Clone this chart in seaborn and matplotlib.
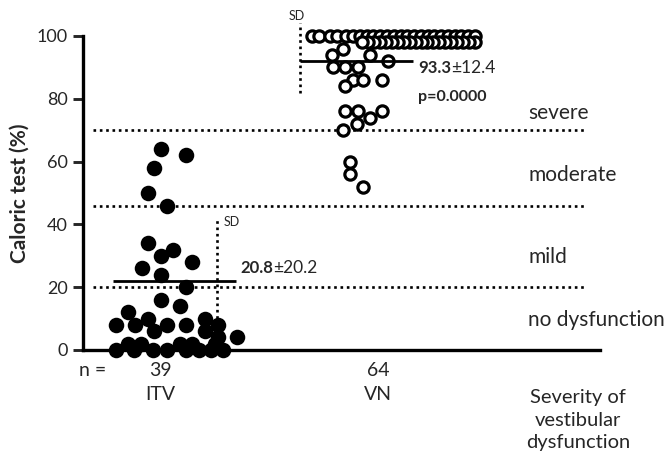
import numpy as np
import pandas as pd
import matplotlib
matplotlib.use("Agg")
import matplotlib.pyplot as plt
import seaborn as sns

# ---------------- data ----------------
groups = ["ITV", "VN"]

itv_values = [64, 62, 58, 50, 46,
              34, 32, 30, 28, 26, 24, 20,
              16, 14, 12,
              8, 8, 10, 6, 8, 8, 10, 6, 8, 4, 4,
              0, 0, 0, 0, 0, 0, 0, 0,
              2, 2, 2, 2, 2]
itv_offsets = [0.003, 0.118, -0.028, -0.056, 0.031,
               -0.056, 0.058, 0.003, 0.147, -0.084, 0.006, 0.118,
               0.003, 0.092, -0.145,
               -0.203, -0.115, -0.056, -0.028, 0.031, 0.118, 0.206, 0.206, 0.265, 0.265, 0.355,
               -0.203, -0.119, -0.032, 0.032, 0.119, 0.179, 0.234, 0.289,
               -0.147, -0.087, 0.092, 0.147, 0.252]

vn_values = [100] * 24 + [98] * 20 + [96, 94, 94, 92, 90, 90, 90, 86, 86, 86, 84,
                                      76, 76, 76, 74, 72, 70, 60, 56, 52]
vn_offsets = [-0.303, -0.271, -0.220, -0.188, -0.147, -0.115, -0.083, -0.050,
              -0.023, 0.009, 0.041, 0.073, 0.106, 0.133, 0.165, 0.197,
              0.229, 0.257, 0.289, 0.321, 0.353, 0.381, 0.413, 0.445,
              0.445, 0.417, 0.390, 0.362, 0.335, 0.307, 0.280, 0.252, 0.225, 0.202,
              0.174, 0.147, 0.119, 0.092, 0.064, 0.037, 0.009, -0.018, -0.046, -0.073,
              -0.161, -0.211, -0.037, 0.046, -0.206, -0.151, -0.092, -0.115, -0.069, 0.018,
              -0.151, -0.151, -0.092, 0.018, -0.037, -0.096, -0.161, -0.128, -0.128, -0.069]

mean_text = ["20.8", "93.3"]
sd_text = ["20.2", "12.4"]
mean_line_y = [22, 92]          # height of drawn mean bars
sd_low = [0, 82]
sd_high = [42.5, 104]
p_text = "p=0.0000"
cutoffs = [20, 46, 70]
severity_labels = ["no dysfunction", "mild", "moderate", "severe"]
yticks = [0, 20, 40, 60, 80, 100]
ylabel = "Caloric test (%)"
axis_title = "Severity of\nvestibular\ndysfunction"

# ---------------- style ----------------
sns.set_style("white")
plt.rcParams["font.family"] = ["Lato", "DejaVu Sans"]

fig = plt.figure(figsize=(6.68, 4.57), dpi=100)
ax = fig.add_axes([83 / 668, 1 - 350 / 457, (600 - 83) / 668, (350 - 36) / 457])

df_itv = pd.DataFrame({"x": 0 + np.array(itv_offsets), "y": itv_values})
df_vn = pd.DataFrame({"x": 1 + np.array(vn_offsets), "y": vn_values})

sns.scatterplot(data=df_itv, x="x", y="y", color="black", s=125, edgecolor="black",
                linewidth=0, clip_on=False, ax=ax, zorder=4, legend=False)
sns.scatterplot(data=df_vn, x="x", y="y", color="white", s=66, edgecolor="black",
                linewidth=2.3, clip_on=False, ax=ax, zorder=4, legend=False)

ax.set_xlim(-0.353, 2.018)
ax.set_ylim(0, 100)

dotted = [(0, (1, 1.4))]
# cutoff dotted lines
ax.hlines(cutoffs, -0.307, 1.950, colors="black", linewidth=1.9,
          linestyles=dotted, zorder=2)

# mean bars
ax.hlines(mean_line_y[0], -0.216, 0.349, colors="black", linewidth=2.0, zorder=5)
ax.hlines(mean_line_y[1], 1 - 0.358, 1 + 0.161, colors="black", linewidth=2.0, zorder=5)
# SD dotted verticals
ax.vlines(0.261, sd_low[0], sd_high[0], colors="black", linewidth=1.9,
          linestyles=dotted, zorder=5, clip_on=False)
ax.vlines(1 - 0.358, sd_low[1], sd_high[1], colors="black", linewidth=1.9,
          linestyles=dotted, zorder=5, clip_on=False)

# spines / ticks
for s in ["top", "right"]:
    ax.spines[s].set_visible(False)
for s in ["left", "bottom"]:
    ax.spines[s].set_linewidth(2.4)
    ax.spines[s].set_color("black")
ax.set_yticks(yticks)
ax.set_yticklabels([str(t) for t in yticks], fontsize=13)
ax.set_xticks([])
ax.tick_params(axis="y", direction="out", length=7, width=2.1, pad=4, left=True)
ax.set_xlabel("")
ax.set_ylabel(ylabel, fontsize=15, fontweight="bold", labelpad=5)

# annotations
fs_small = 12
t1 = ax.text(0.367, 26.1, mean_text[0], fontsize=fs_small, fontweight="bold",
             ha="left", va="center")
ax.annotate("\u00b1" + sd_text[0], xy=(1, 0.5), xycoords=t1, ha="left", va="center",
            fontsize=fs_small + 0.5)
t2 = ax.text(1.183, 89.8, mean_text[1], fontsize=fs_small, fontweight="bold",
             ha="left", va="center")
ax.annotate("\u00b1" + sd_text[1], xy=(1, 0.5), xycoords=t2, ha="left", va="center",
            fontsize=fs_small + 0.5)
ax.text(1.183, 80.6, p_text, fontsize=fs_small - 0.5, fontweight="bold", ha="left",
        va="center")
ax.text(0.294, sd_high[0] - 1.8, "SD", fontsize=9, ha="left", va="center")
ax.text(1 - 0.412, sd_high[1] + 2.4, "SD", fontsize=9, ha="left", va="center")

# severity labels on the right
sev_y = [9.6, 29.6, 55.7, 75.5]
for lab, yy in zip(severity_labels, sev_y):
    ax.text(1.688, yy, lab, fontsize=15, ha="left", va="center")

# bottom labels
ax.text(-0.307, -6.4, "n =", fontsize=14, ha="center", va="center")
for i, (g, vals) in enumerate(zip(groups, [itv_values, vn_values])):
    ax.text(i, -6.4, str(len(vals)), fontsize=14, ha="center", va="center")
    ax.text(i, -14.3, g, fontsize=14, ha="center", va="center")
ax.text(1.917, -12.3, axis_title, fontsize=14.5, ha="center", va="top", linespacing=1.42)

fig.savefig("out.png", dpi=100)
